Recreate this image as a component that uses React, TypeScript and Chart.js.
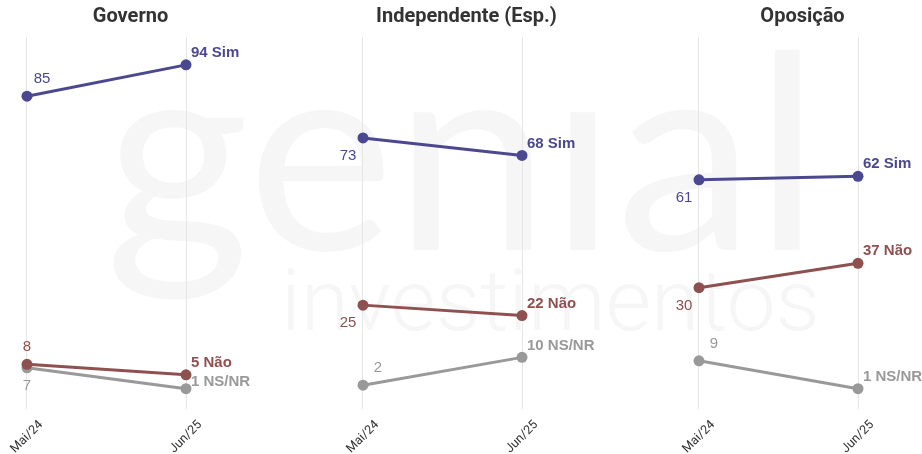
import React, { useEffect, useRef } from "react";
import { Chart, registerables } from "chart.js";

Chart.register(...registerables);

// ---- data ----
const panels = ["Governo", "Independente (Esp.)", "Oposição"];
const categories = ["Mai/24", "Jun/25"];
const seriesNames = ["Sim", "Não", "NS/NR"];
const simValues = [
  [85, 94],
  [73, 68],
  [61, 62],
];
const naoValues = [
  [8, 5],
  [25, 22],
  [30, 37],
];
const nsnrValues = [
  [7, 1],
  [2, 10],
  [9, 1],
];

// ---- styling / label placement ----
const seriesColors = ["#4c4890", "#8f5050", "#999999"];
// placement of the first-period label: ur = up-right, u = up, d = down, dl = down-left
const leftPlacement = [
  ["ur", "u", "d"],
  ["dl", "dl", "ur"],
  ["dl", "dl", "ur"],
];
// vertical offset of last-period labels
const rightDy = [
  [-12, -12, -7],
  [-12, -12, -12],
  [-12, -12, -12],
];

const PANEL_W = 336;
const H = 454;
const X0 = 27;
const STEP = 159;
const TOP = 37;
const BOTTOM_PAD = 45;

function seriesFor(p: number) {
  return [simValues[p], naoValues[p], nsnrValues[p]];
}

function Watermark() {
  const ref = useRef<HTMLCanvasElement>(null);
  useEffect(() => {
    const c = ref.current;
    if (!c) return;
    const ctx = c.getContext("2d");
    if (!ctx) return;
    ctx.clearRect(0, 0, 922, H);
    ctx.fillStyle = "rgb(245,246,245)";
    ctx.textBaseline = "alphabetic";
    // "genial" (logo uses a dotless i)
    ctx.save();
    ctx.font = "400 272px Lato";
    let w = ctx.measureText("genıal").width;
    ctx.translate(105, 250);
    ctx.scale(715 / w, 1);
    ctx.fillText("genıal", 0, 0);
    ctx.restore();
    // "investimentos"
    ctx.save();
    ctx.font = "300 86px Roboto";
    w = ctx.measureText("investimentos").width;
    ctx.translate(281, 330);
    ctx.scale(539 / w, 1);
    ctx.fillText("investimentos", 0, 0);
    ctx.restore();
  }, []);
  return (
    <canvas
      ref={ref}
      width={922}
      height={H}
      style={{ position: "absolute", left: 0, top: 0, width: 922, height: H }}
    />
  );
}

function Panel({ index }: { index: number }) {
  const ref = useRef<HTMLCanvasElement>(null);
  useEffect(() => {
    const c = ref.current;
    if (!c) return;
    const values = seriesFor(index);
    const overlay = {
      id: "overlay" + index,
      afterDraw(chart: any) {
        const ctx = chart.ctx as CanvasRenderingContext2D;
        const xs = chart.scales.x;
        ctx.save();
        // title
        ctx.fillStyle = "#333333";
        ctx.font = "bold 20px Roboto";
        ctx.textAlign = "center";
        ctx.textBaseline = "middle";
        ctx.fillText(panels[index], 130.5, 17);
        // tick labels
        ctx.font = "12.5px Roboto";
        ctx.fillStyle = "#333333";
        categories.forEach((cat, i) => {
          const px = xs.getPixelForValue(i);
          ctx.save();
          ctx.translate(px, 437);
          ctx.rotate(-Math.PI / 4);
          ctx.textAlign = "center";
          ctx.textBaseline = "middle";
          ctx.fillText(cat, 0, 0);
          ctx.restore();
        });
        // data labels
        values.forEach((vals, s) => {
          const meta = chart.getDatasetMeta(s);
          const p0 = meta.data[0];
          const p1 = meta.data[1];
          ctx.fillStyle = seriesColors[s];
          // first label
          ctx.font = "15px 'Liberation Sans'";
          ctx.textAlign = "center";
          ctx.textBaseline = "middle";
          const pl = leftPlacement[index][s];
          let dx = 0,
            dy = 0;
          if (pl === "ur") {
            dx = 15;
            dy = -17;
          } else if (pl === "u") {
            dy = -17;
          } else if (pl === "d") {
            dy = 18;
          } else if (pl === "dl") {
            dx = -15;
            dy = 18;
          }
          ctx.fillText(String(vals[0]), p0.x + dx, p0.y + dy);
          // last label
          ctx.font = "bold 15px 'Liberation Sans'";
          ctx.textAlign = "left";
          ctx.fillText(vals[1] + " " + seriesNames[s], p1.x + 5, p1.y + rightDy[index][s]);
        });
        ctx.restore();
      },
    };
    const chart = new Chart(c, {
      type: "line",
      data: {
        datasets: values.map((vals, s) => ({
          label: seriesNames[s],
          data: vals.map((v, i) => ({ x: i, y: v })),
          borderColor: seriesColors[s],
          backgroundColor: seriesColors[s],
          borderWidth: 3,
          pointRadius: 5.5,
          pointBorderWidth: 0,
          pointHoverRadius: 5.5,
          tension: 0,
          clip: false,
        })),
      },
      options: {
        responsive: false,
        animation: false,
        devicePixelRatio: 1,
        layout: {
          autoPadding: false,
          padding: { top: TOP, bottom: BOTTOM_PAD, left: 0, right: 0 },
        },
        scales: {
          x: {
            type: "linear",
            min: -X0 / STEP,
            max: (PANEL_W - X0) / STEP,
            afterBuildTicks: (s: any) => {
              s.ticks = [{ value: 0 }, { value: 1 }];
            },
            ticks: { display: false },
            grid: { color: "#e6e6e6", lineWidth: 1, drawTicks: false },
            border: { display: false },
          },
          y: {
            type: "linear",
            display: false,
            min: -4.83,
            max: 102,
          },
        },
        plugins: {
          legend: { display: false },
          tooltip: { enabled: false },
        },
      },
      plugins: [overlay],
    } as any);
    return () => chart.destroy();
  }, [index]);
  return (
    <canvas
      ref={ref}
      width={PANEL_W}
      height={H}
      style={{ position: "absolute", left: index * PANEL_W, top: 0, width: PANEL_W, height: H }}
    />
  );
}

export default function App() {
  return (
    <div
      style={{
        position: "fixed",
        left: 0,
        top: 0,
        width: 922,
        height: H,
        overflow: "hidden",
        background: "#ffffff",
      }}
    >
      <Watermark />
      {panels.map((_, i) => (
        <Panel key={i} index={i} />
      ))}
    </div>
  );
}
